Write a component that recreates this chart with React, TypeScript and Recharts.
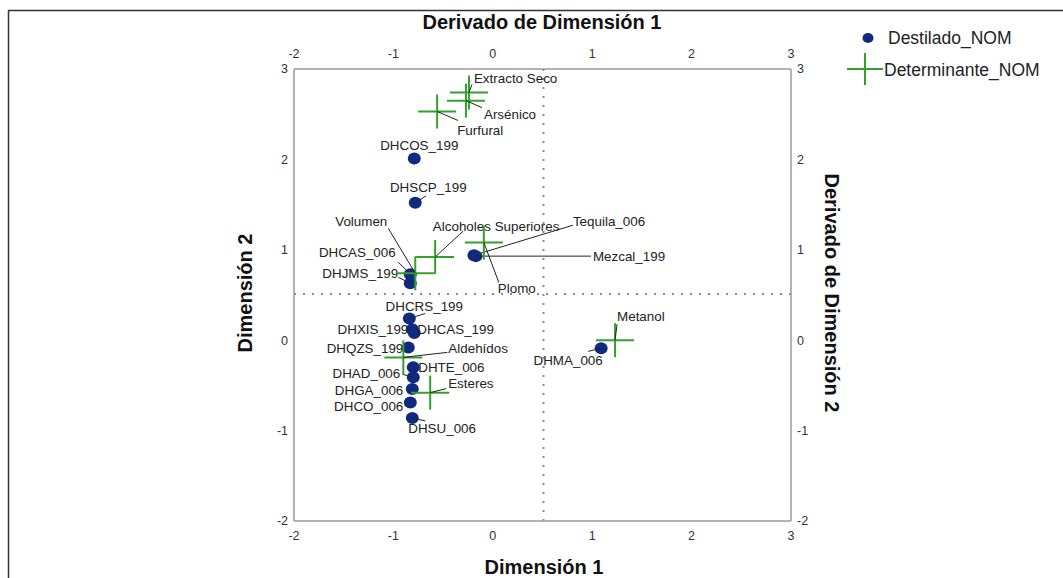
import React from "react";
import { ScatterChart, Scatter, XAxis, YAxis, ReferenceLine } from "recharts";

// ---- data ----
const destiladoNames = [
  "DHCOS_199", "DHSCP_199", "Tequila_006", "Mezcal_199", "DHCAS_006", "DHJMS_199",
  "DHCRS_199", "DHXIS_199", "DHCAS_199", "DHQZS_199", "DHTE_006", "DHAD_006",
  "DHGA_006", "DHCO_006", "DHSU_006", "DHMA_006",
];
const destiladoX = [-0.79, -0.78, -0.19, -0.17, -0.83, -0.83, -0.84, -0.81, -0.79, -0.85, -0.80, -0.80, -0.81, -0.83, -0.81, 1.09];
const destiladoY = [2.01, 1.52, 0.94, 0.93, 0.73, 0.63, 0.24, 0.12, 0.08, -0.08, -0.30, -0.41, -0.54, -0.69, -0.86, -0.09];

const determinanteNames = [
  "Extracto Seco", "Arsénico", "Furfural", "Alcoholes Superiores", "Volumen",
  "Plomo", "Metanol", "Aldehídos", "Esteres",
];
const determinanteX = [-0.24, -0.27, -0.56, -0.58, -0.78, -0.09, 1.23, -0.90, -0.63];
const determinanteY = [2.74, 2.65, 2.53, 0.92, 0.74, 1.08, 0.0, -0.19, -0.58];

const axisTicks = [-2, -1, 0, 1, 2, 3];
const refX = 0.51;
const refY = 0.51;

// ---- label layout (pixel offsets from the mark) ----
type LabelPos = { dx: number; dy: number; anchor: "start" | "middle" | "end"; lx?: number; ly?: number };
const labelLayout: Record<string, LabelPos> = {
  DHCOS_199: { dx: 5, dy: -13, anchor: "middle" },
  DHSCP_199: { dx: 13, dy: -15, anchor: "middle", lx: 11, ly: -7 },
  Tequila_006: { dx: 99, dy: -34, anchor: "start", lx: 99, ly: -30 },
  Mezcal_199: { dx: 117, dy: 0, anchor: "start", lx: 115, ly: 0 },
  DHCAS_006: { dx: -53, dy: -22, anchor: "middle", lx: -12, ly: -12 },
  DHJMS_199: { dx: -50, dy: -10, anchor: "middle", lx: -12, ly: -6 },
  DHCRS_199: { dx: 15, dy: -12, anchor: "middle", lx: 16, ly: -5 },
  DHXIS_199: { dx: -4, dy: 0, anchor: "end" },
  DHCAS_199: { dx: 3, dy: -3, anchor: "start" },
  DHQZS_199: { dx: -5, dy: 1, anchor: "end" },
  DHTE_006: { dx: 5, dy: 0, anchor: "start" },
  DHAD_006: { dx: -13, dy: -4, anchor: "end", lx: -11, ly: -3 },
  DHGA_006: { dx: -9, dy: 1, anchor: "end" },
  DHCO_006: { dx: -7, dy: 4, anchor: "end" },
  DHSU_006: { dx: -4, dy: 11, anchor: "start", lx: 13, ly: 3 },
  DHMA_006: { dx: -33, dy: 12, anchor: "middle", lx: -13, ly: 3 },
  "Extracto Seco": { dx: 5, dy: -14, anchor: "start", lx: 3, ly: -8 },
  "Arsénico": { dx: 18, dy: 14, anchor: "start", lx: 16, ly: 7 },
  Furfural: { dx: 20, dy: 19, anchor: "start", lx: 21, ly: 9 },
  "Alcoholes Superiores": { dx: 61, dy: -31, anchor: "middle", lx: 28, ly: -26 },
  Volumen: { dx: -54, dy: -52, anchor: "middle", lx: -27, ly: -45 },
  Plomo: { dx: 14, dy: 46, anchor: "start", lx: 15, ly: 40 },
  Metanol: { dx: 2, dy: -24, anchor: "start", lx: 2, ly: -16 },
  "Aldehídos": { dx: 45, dy: -9, anchor: "start", lx: 44, ly: -5 },
  Esteres: { dx: 18, dy: -9, anchor: "start", lx: 16, ly: -4 },
};

const destiladoData = destiladoNames.map((name, i) => ({ name, x: destiladoX[i], y: destiladoY[i] }));
const determinanteData = determinanteNames.map((name, i) => ({ name, x: determinanteX[i], y: determinanteY[i] }));

const FONT = "'Liberation Sans', Arial, Helvetica, sans-serif";
const NAVY = "#0f2a80";
const GREEN = "#33a02c";
const AXIS = "#9a9a9a";

function Label({ cx, cy, name }: { cx: number; cy: number; name: string }) {
  const l = labelLayout[name];
  if (!l) return null;
  return (
    <g>
      {l.lx !== undefined && (
        <line x1={cx} y1={cy} x2={cx + l.lx} y2={cy + (l.ly || 0)} stroke="#222" strokeWidth={1} />
      )}
      <text
        x={cx + l.dx}
        y={cy + l.dy}
        textAnchor={l.anchor}
        dominantBaseline="central"
        fontSize={13.4}
        fontFamily={FONT}
        fill="#222"
      >
        {name}
      </text>
    </g>
  );
}

const DotShape = (props: any) => {
  const { cx, cy, payload } = props;
  return (
    <g>
      <ellipse cx={cx} cy={cy} rx={6.5} ry={6} fill={NAVY} />
      <Label cx={cx} cy={cy} name={payload.name} />
    </g>
  );
};

const CrossShape = (props: any) => {
  const { cx, cy, payload } = props;
  return (
    <g>
      <line x1={cx - 19} y1={cy} x2={cx + 19} y2={cy} stroke={GREEN} strokeWidth={2} />
      <line x1={cx} y1={cy - 17} x2={cx} y2={cy + 17} stroke={GREEN} strokeWidth={2} />
      <Label cx={cx} cy={cy} name={payload.name} />
    </g>
  );
};

const tickStyle = { fontSize: 12.5, fill: "#333", fontFamily: FONT };

export default function App() {
  return (
    <div style={{ position: "absolute", left: 0, top: 0, width: 1063, height: 578, background: "#fff" }}>
      <ScatterChart
        width={1063}
        height={578}
        margin={{ top: 39, right: 242, bottom: 27, left: 264 }}
      >
        <XAxis
          dataKey="x"
          type="number"
          domain={[-2, 3]}
          ticks={axisTicks}
          tickSize={0}
          tickMargin={10}
          height={30}
          axisLine={{ stroke: AXIS, strokeWidth: 1.5 }}
          tickLine={false}
          tick={tickStyle}
          allowDataOverflow
        />
        <XAxis
          xAxisId="top"
          dataKey="x"
          orientation="top"
          type="number"
          domain={[-2, 3]}
          ticks={axisTicks}
          tickSize={0}
          tickMargin={11}
          height={30}
          axisLine={{ stroke: AXIS, strokeWidth: 1.5 }}
          tickLine={false}
          tick={tickStyle}
          allowDataOverflow
        />
        <YAxis
          dataKey="y"
          type="number"
          domain={[-2, 3]}
          ticks={axisTicks}
          tickSize={0}
          tickMargin={6}
          width={30}
          axisLine={{ stroke: AXIS, strokeWidth: 1.5 }}
          tickLine={false}
          tick={tickStyle}
          allowDataOverflow
        />
        <YAxis
          yAxisId="right"
          dataKey="y"
          orientation="right"
          type="number"
          domain={[-2, 3]}
          ticks={axisTicks}
          tickSize={0}
          tickMargin={6}
          width={30}
          axisLine={{ stroke: AXIS, strokeWidth: 1.5 }}
          tickLine={false}
          tick={tickStyle}
          allowDataOverflow
        />
        <ReferenceLine x={refX} stroke="#8a8a8a" strokeWidth={2} strokeDasharray="2 7" />
        <ReferenceLine y={refY} stroke="#8a8a8a" strokeWidth={2} strokeDasharray="2 7" />
        <Scatter name="Destilado_NOM" data={destiladoData} shape={DotShape} isAnimationActive={false} />
        <Scatter
          name="Determinante_NOM"
          data={determinanteData}
          xAxisId="top"
          yAxisId="right"
          shape={CrossShape}
          isAnimationActive={false}
        />
      </ScatterChart>
      <svg
        width={1063}
        height={578}
        style={{ position: "absolute", left: 0, top: 0, pointerEvents: "none" }}
      >
        <line x1={8} y1={10.5} x2={1063} y2={10.5} stroke="#333" strokeWidth={1.5} />
        <line x1={8.5} y1={10} x2={8.5} y2={578} stroke="#333" strokeWidth={1.5} />
        <text x={542} y={22} textAnchor="middle" dominantBaseline="central" fontSize={20} fontWeight="bold" fontFamily={FONT} fill="#111">
          Derivado de Dimensión 1
        </text>
        <text x={544} y={567} textAnchor="middle" dominantBaseline="central" fontSize={20} fontWeight="bold" fontFamily={FONT} fill="#111">
          Dimensión 1
        </text>
        <text x={245} y={293} textAnchor="middle" dominantBaseline="central" fontSize={20} fontWeight="bold" fontFamily={FONT} fill="#111" transform="rotate(-90 245 293)">
          Dimensión 2
        </text>
        <text x={832} y={293} textAnchor="middle" dominantBaseline="central" fontSize={20} fontWeight="bold" fontFamily={FONT} fill="#111" transform="rotate(90 832 293)">
          Derivado de Dimensión 2
        </text>
        <ellipse cx={868} cy={38} rx={5.5} ry={5} fill={NAVY} />
        <text x={888} y={38} dominantBaseline="central" fontSize={17.5} fontFamily={FONT} fill="#222">
          Destilado_NOM
        </text>
        <line x1={847} y1={69} x2={883} y2={69} stroke={GREEN} strokeWidth={2} />
        <line x1={865} y1={53} x2={865} y2={85} stroke={GREEN} strokeWidth={2} />
        <text x={884} y={70} dominantBaseline="central" fontSize={17.5} fontFamily={FONT} fill="#222">
          Determinante_NOM
        </text>
      </svg>
    </div>
  );
}
